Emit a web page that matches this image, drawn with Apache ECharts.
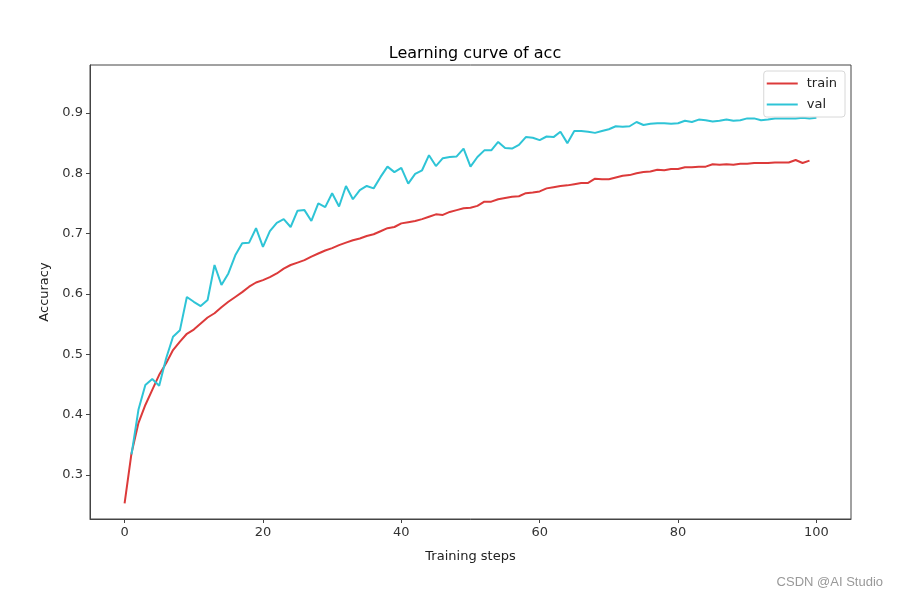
<!DOCTYPE html>
<html>
<head>
<meta charset="utf-8">
<script src="https://cdn.jsdelivr.net/npm/echarts@6/dist/echarts.min.js"></script>
<style>html,body{margin:0;padding:0;background:#fff}#c{width:898px;height:598px}</style>
</head>
<body>
<div id="c"></div>
<script>
const trainAcc = [0.253,0.336,0.386,0.416,0.441,0.466,0.485,0.507,0.521,0.534,
0.541,0.551,0.561,0.568,0.578,0.587,0.595,0.603,0.612,0.619,
0.623,0.628,0.634,0.642,0.648,0.652,0.656,0.662,0.667,0.672,
0.676,0.681,0.685,0.689,0.692,0.696,0.699,0.704,0.709,0.711,
0.717,0.719,0.721,0.724,0.728,0.732,0.731,0.736,0.739,0.742,
0.743,0.746,0.753,0.753,0.757,0.759,0.761,0.762,0.767,0.768,
0.770,0.775,0.777,0.779,0.780,0.782,0.784,0.784,0.791,0.790,
0.790,0.793,0.796,0.797,0.800,0.802,0.803,0.806,0.805,0.807,
0.807,0.810,0.810,0.811,0.811,0.815,0.814,0.815,0.814,0.816,
0.816,0.817,0.817,0.817,0.818,0.818,0.818,0.822,0.817,0.821];
const valAcc = [0.334,0.408,0.449,0.459,0.448,0.493,0.529,0.540,0.595,0.587,
0.580,0.590,0.648,0.615,0.634,0.664,0.684,0.685,0.709,0.678,
0.704,0.718,0.724,0.711,0.738,0.739,0.721,0.750,0.744,0.767,
0.745,0.779,0.757,0.772,0.779,0.775,0.794,0.811,0.802,0.809,
0.783,0.799,0.805,0.830,0.812,0.825,0.827,0.828,0.841,0.811,
0.827,0.838,0.838,0.852,0.842,0.841,0.847,0.860,0.859,0.855,
0.861,0.860,0.869,0.850,0.870,0.870,0.869,0.867,0.870,0.873,
0.878,0.877,0.878,0.885,0.880,0.882,0.883,0.883,0.882,0.883,
0.887,0.885,0.889,0.888,0.886,0.887,0.889,0.887,0.888,0.891,
0.891,0.888,0.889,0.891,0.891,0.891,0.891,0.892,0.891,0.892];
const trainStart = 0;
const valStart = 1;
const xTicks = [0,20,40,60,80,100];
const yTicks = [0.3,0.4,0.5,0.6,0.7,0.8,0.9];

const font = 'DejaVu Sans';
const chart = echarts.init(document.getElementById('c'), null, {renderer:'canvas'});
chart.setOption({
  animation:false,
  backgroundColor:'#fff',
  title:{text:'Learning curve of acc', left:470, top:41, textAlign:'center',
    textStyle:{fontFamily:font, fontSize:16, fontWeight:'normal', color:'#000'}},
  legend:{right:53, top:71, orient:'vertical', itemWidth:31, itemHeight:2, itemGap:8,
    icon:'rect',
    borderColor:'#d8d8d8', borderWidth:1, borderRadius:3, padding:[6,8,6,3],
    backgroundColor:'rgba(255,255,255,0.8)',
    textStyle:{fontFamily:font, fontSize:13, color:'#222', padding:[0,0,0,4]},
    data:['train','val']},
  graphic:[{type:'text', right:15, top:576,
    style:{text:'CSDN @AI Studio', font:'13px "Liberation Sans", Arial', fill:'#999'}}],
  grid:{left:90, right:47, top:65, bottom:79, show:true, borderColor:'#444', borderWidth:1},
  xAxis:{type:'value', min:-5, max:105,
    name:'Training steps', nameLocation:'middle', nameGap:31,
    nameTextStyle:{fontFamily:font, fontSize:13, color:'#222'},
    axisLine:{show:true, onZero:false, lineStyle:{color:'#444'}},
    axisTick:{show:true, length:4, lineStyle:{color:'#444'}, customValues:xTicks},
    axisLabel:{fontFamily:font, fontSize:13, color:'#333', margin:7, customValues:xTicks},
    splitLine:{show:false}},
  yAxis:{type:'value', min:0.227, max:0.9795,
    name:'Accuracy', nameLocation:'middle', nameGap:39,
    nameTextStyle:{fontFamily:font, fontSize:13, color:'#222'},
    axisLine:{show:true, onZero:false, lineStyle:{color:'#444'}},
    axisTick:{show:true, length:4, lineStyle:{color:'#444'}, customValues:yTicks},
    axisLabel:{fontFamily:font, fontSize:13, color:'#333', margin:7, customValues:yTicks,
      formatter:v=>v.toFixed(1)},
    splitLine:{show:false}},
  series:[
    {name:'train', type:'line', symbol:'none', color:'#dc3a3a',
     lineStyle:{width:2, color:'#dc3a3a'},
     data:trainAcc.map((v,i)=>[trainStart+i, v])},
    {name:'val', type:'line', symbol:'none', color:'#2ec4d6',
     lineStyle:{width:2, color:'#2ec4d6'},
     data:valAcc.map((v,i)=>[valStart+i, v])}
  ]
});
</script>
</body>
</html>
